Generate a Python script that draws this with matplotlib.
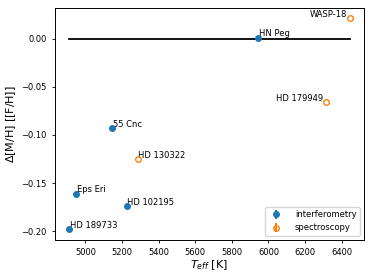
import matplotlib
matplotlib.use("Agg")
import matplotlib.pyplot as plt
import numpy as np

# interferometry stars
int_names = ["HD 189733", "Eps Eri", "55 Cnc", "HD 102195", "HN Peg"]
int_teff = [4910, 4950, 5145, 5225, 5945]
int_dmh = [-0.198, -0.161, -0.093, -0.174, 0.001]

# spectroscopy stars
spec_names = ["HD 130322", "HD 179949", "WASP-18"]
spec_teff = [5285, 6315, 6445]
spec_dmh = [-0.125, -0.066, 0.021]

fig, ax = plt.subplots(figsize=(3.74, 2.8), dpi=100)

all_teff = int_teff + spec_teff
ax.plot([min(all_teff), max(all_teff)], [0, 0], color="k", lw=1.3, zorder=1)

ax.errorbar(int_teff, int_dmh, yerr=0, fmt="o", ms=4, color="C0", label="interferometry", zorder=3)
ax.errorbar(spec_teff, spec_dmh, yerr=0, fmt="o", ms=4, mfc="none", color="C1",
            label="spectroscopy", zorder=3)

for n, x, y in zip(int_names + spec_names, int_teff + spec_teff, int_dmh + spec_dmh):
    if n in ("HD 179949", "WASP-18"):
        ax.annotate(n, (x, y), xytext=(-2, 1), textcoords="offset points", ha="right", fontsize=6)
    else:
        ax.annotate(n, (x, y), xytext=(0.5, 1), textcoords="offset points", fontsize=6)

ax.set_yticks([0.0, -0.05, -0.10, -0.15, -0.20])
ax.tick_params(labelsize=6, length=2.5, width=0.6)
for s in ax.spines.values():
    s.set_linewidth(0.7)
ax.set_xlabel(r"$T_{eff}$ [K]", fontsize=8, labelpad=1)
ax.set_ylabel(r"$\Delta$[M/H] [[F/H]]", fontsize=8, labelpad=2)
ax.legend(loc="lower right", fontsize=6, handletextpad=1.2, borderpad=0.4)

fig.subplots_adjust(left=0.147, right=0.973, top=0.972, bottom=0.143)
fig.savefig("out.png", dpi=100)
